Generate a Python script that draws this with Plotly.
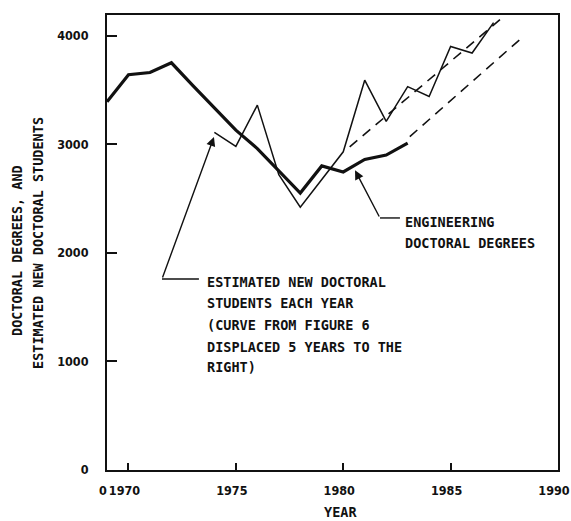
import plotly.graph_objects as go

# ---- data ----
degree_years = [1969, 1970, 1971, 1972, 1973, 1974, 1975, 1976, 1977, 1978,
                1979, 1980, 1981, 1982, 1983]
degree_values = [3390, 3640, 3660, 3750, 3540, 3330, 3130, 2960, 2760, 2550,
                 2800, 2745, 2860, 2900, 3010]

student_years = [1974, 1975, 1976, 1977, 1978, 1979, 1980, 1981, 1982, 1983,
                 1984, 1985, 1986, 1987]
student_values = [3110, 2980, 3360, 2720, 2420, 2670, 2930, 3590, 3210, 3530,
                  3440, 3900, 3840, 4120]

upper_trend_years = [1980.3, 1987.4]
upper_trend_values = [2975, 4165]
lower_trend_years = [1983.1, 1988.2]
lower_trend_values = [3070, 3960]

x_tick_vals = [1969, 1970, 1975, 1980, 1985, 1990]
x_tick_text = ["0", "1970", "1975", "1980", "1985", "1990"]
y_tick_vals = [0, 1000, 2000, 3000, 4000]
y_tick_text = ["0", "1000", "2000", "3000", "4000"]

INK = "#111111"
TICKFONT = dict(family="DejaVu Sans Condensed, Liberation Sans Narrow, sans-serif",
                size=12.5, color=INK, weight="bold")
LETTER = dict(family="DejaVu Sans Mono, monospace", size=13.5, color=INK, weight="bold")

fig = go.Figure()
fig.add_trace(go.Scatter(x=upper_trend_years, y=upper_trend_values, mode="lines",
                         line=dict(color=INK, width=1.6, dash="10px,7px"),
                         showlegend=False, hoverinfo="skip"))
fig.add_trace(go.Scatter(x=lower_trend_years, y=lower_trend_values, mode="lines",
                         line=dict(color=INK, width=1.6, dash="10px,7px"),
                         showlegend=False, hoverinfo="skip"))
fig.add_trace(go.Scatter(x=student_years, y=student_values, mode="lines",
                         line=dict(color=INK, width=1.5),
                         showlegend=False))
fig.add_trace(go.Scatter(x=degree_years, y=degree_values, mode="lines",
                         line=dict(color=INK, width=3.2),
                         showlegend=False))

# leader lines
fig.add_shape(type="line", x0=1981.71, y0=2321, x1=1982.64, y1=2321,
              xref="x", yref="y", line=dict(color=INK, width=1.4))
fig.add_annotation(x=1980.55, y=2760, ax=1981.71, ay=2321, axref="x", ayref="y",
                   xref="x", yref="y", text="", showarrow=True, arrowhead=2,
                   arrowsize=1.3, arrowwidth=1.4, arrowcolor=INK)
fig.add_shape(type="line", x0=1971.56, y0=1759, x1=1973.28, y1=1759,
              xref="x", yref="y", line=dict(color=INK, width=1.4))
fig.add_annotation(x=1973.98, y=3067, ax=1971.56, ay=1759, axref="x", ayref="y",
                   xref="x", yref="y", text="", showarrow=True, arrowhead=2,
                   arrowsize=1.3, arrowwidth=1.4, arrowcolor=INK)

# labels
eng_lines = [("ENGINEERING", 2284), ("DOCTORAL DEGREES", 2090)]
for txt, yv in eng_lines:
    fig.add_annotation(x=1982.78, y=yv, xref="x", yref="y", text=txt,
                       showarrow=False, xanchor="left", yanchor="middle", font=LETTER)
est_lines = [("ESTIMATED NEW DOCTORAL", 1731), ("STUDENTS EACH YEAR", 1538),
             ("(CURVE FROM FIGURE 6", 1335), ("DISPLACED 5 YEARS TO THE", 1133),
             ("RIGHT)", 949)]
for txt, yv in est_lines:
    fig.add_annotation(x=1973.56, y=yv, xref="x", yref="y", text=txt,
                       showarrow=False, xanchor="left", yanchor="middle", font=LETTER)

# y-axis title (two lettered lines)
fig.add_annotation(x=-0.1996, y=0.4835, xref="paper", yref="paper",
                   text="DOCTORAL DEGREES, AND", textangle=-90, showarrow=False,
                   xanchor="center", yanchor="middle", font=LETTER)
fig.add_annotation(x=-0.153, y=0.499, xref="paper", yref="paper",
                   text="ESTIMATED NEW DOCTORAL STUDENTS", textangle=-90, showarrow=False,
                   xanchor="center", yanchor="middle", font=LETTER)
# x-axis title
fig.add_annotation(x=1979.85, y=-0.092, xref="x", yref="paper", text="YEAR",
                   showarrow=False, xanchor="center", yanchor="middle", font=LETTER)

fig.update_xaxes(range=[1969, 1990], tickvals=x_tick_vals, ticktext=x_tick_text,
                 tickangle=0, ticklabelshift=-4, ticklabeloverflow="allow",
                 automargin=False,
                 ticks="inside", ticklen=7, tickwidth=1.5, tickcolor=INK,
                 showline=True, linecolor=INK, linewidth=2, mirror=True,
                 showgrid=False, zeroline=False, tickfont=TICKFONT,
                 ticklabelstandoff=8)
fig.update_yaxes(range=[0, 4190], tickvals=y_tick_vals, ticktext=y_tick_text,
                 automargin=False,
                 ticks="inside", ticklen=10, tickwidth=1.5, tickcolor=INK,
                 showline=True, linecolor=INK, linewidth=2, mirror=True,
                 showgrid=False, zeroline=False, tickfont=TICKFONT,
                 ticklabelstandoff=14)
fig.update_layout(width=571, height=521, margin=dict(l=107, r=13, t=15, b=51),
                  paper_bgcolor="white", plot_bgcolor="white")

fig.write_html("out.html")
